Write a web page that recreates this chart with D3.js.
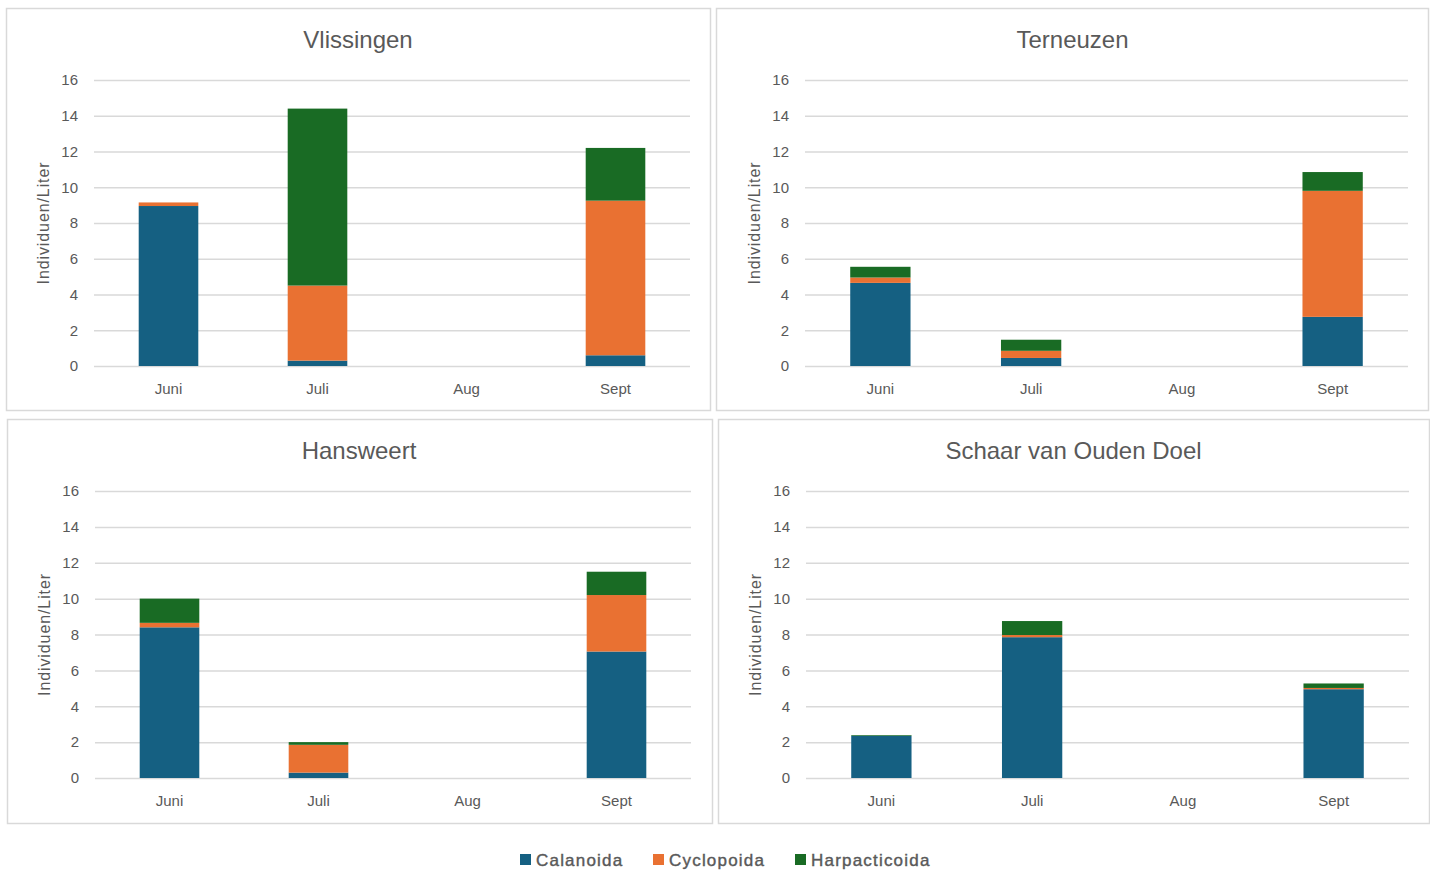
<!DOCTYPE html>
<html>
<head>
<meta charset="utf-8">
<script src="https://cdn.jsdelivr.net/npm/d3@7"></script>
<style>
  html, body { margin: 0; padding: 0; background: #ffffff; }
  svg { display: block; }
  text { font-family: "Liberation Sans", Arial, sans-serif; fill: #595959; }
</style>
</head>
<body>
<svg id="chart" width="1430" height="870"></svg>
<script>
// Copepod densities per station and month (individuals per litre)
const stations = ["Vlissingen", "Terneuzen", "Hansweert", "Schaar van Ouden Doel"];
const months = ["Juni", "Juli", "Aug", "Sept"];
const seriesNames = ["Calanoida", "Cyclopoida", "Harpacticoida"];
const yTicks = [0, 2, 4, 6, 8, 10, 12, 14, 16];

// one row per station, one value per month
const calanoida = [
  [8.95, 0.3, 0, 0.6],
  [4.65, 0.45, 0, 2.75],
  [8.4, 0.3, 0, 7.05],
  [2.35, 7.85, 0, 4.95]
];
const cyclopoida = [
  [0.2, 4.2, 0, 8.65],
  [0.3, 0.4, 0, 7.05],
  [0.25, 1.55, 0, 3.15],
  [0, 0.12, 0, 0.07]
];
const harpacticoida = [
  [0, 9.9, 0, 2.95],
  [0.6, 0.62, 0, 1.05],
  [1.35, 0.15, 0, 1.3],
  [0.04, 0.78, 0, 0.25]
];

const seriesColors = ["#156082", "#E97132", "#196B24"];

// panel frames and plot areas
const panels = [
  { frame: [6.5, 8.5, 710.5, 410.5],   plot: [94, 80, 690, 366] },
  { frame: [716.5, 8.5, 1428.5, 410.5], plot: [805, 80, 1408, 366] },
  { frame: [7.5, 419.5, 712.5, 823.5], plot: [95, 491, 691, 778] },
  { frame: [718.5, 419.5, 1429.5, 823.5], plot: [806, 491, 1409, 778] }
];

const svg = d3.select("#chart");
const stack = d3.stack().keys(seriesNames);

stations.forEach((name, si) => {
  const p = panels[si];
  const [fx0, fy0, fx1, fy1] = p.frame;
  const [px0, py0, px1, py1] = p.plot;

  const g = svg.append("g");

  g.append("rect")
    .attr("x", fx0).attr("y", fy0)
    .attr("width", fx1 - fx0).attr("height", fy1 - fy0)
    .attr("fill", "#ffffff")
    .attr("stroke", "#d9d9d9")
    .attr("stroke-width", 1.5);

  const x = d3.scaleBand().domain(months).range([px0, px1])
    .paddingInner(0.6).paddingOuter(0.3);
  const y = d3.scaleLinear().domain([0, 16]).range([py1, py0]);

  // gridlines + tick labels
  const yAxis = d3.axisLeft(y).tickValues(yTicks)
    .tickSize(-(px1 - px0)).tickPadding(16).tickFormat(d3.format("d"));
  const ya = g.append("g").attr("transform", `translate(${px0},0)`).call(yAxis);
  ya.select(".domain").remove();
  ya.selectAll(".tick line").attr("stroke", "#d9d9d9").attr("stroke-width", 1.5);
  ya.selectAll(".tick text")
    .attr("fill", "#595959")
    .style("font-size", "15px")
    .style("font-family", "'Liberation Sans', Arial, sans-serif");

  // month labels
  const xAxis = d3.axisBottom(x).tickSize(0).tickPadding(17);
  const xa = g.append("g").attr("transform", `translate(0,${py1})`).call(xAxis);
  xa.select(".domain").remove();
  xa.selectAll(".tick text")
    .attr("fill", "#595959")
    .style("font-size", "15px")
    .style("font-family", "'Liberation Sans', Arial, sans-serif");

  // stacked bars
  const rows = months.map((m, mi) => ({
    month: m,
    Calanoida: calanoida[si][mi],
    Cyclopoida: cyclopoida[si][mi],
    Harpacticoida: harpacticoida[si][mi]
  }));
  const layers = stack(rows);
  g.selectAll(".layer").data(layers).join("g")
    .attr("class", "layer")
    .attr("fill", (d, i) => seriesColors[i])
    .selectAll("rect")
    .data(d => d.filter(v => v[1] - v[0] > 0))
    .join("rect")
    .attr("x", d => x(d.data.month))
    .attr("width", x.bandwidth())
    .attr("y", d => y(d[1]))
    .attr("height", d => y(d[0]) - y(d[1]));

  // title
  g.append("text")
    .attr("x", (px0 + px1) / 2 - 34)
    .attr("y", py0 - 32)
    .attr("text-anchor", "middle")
    .style("font-size", "24px")
    .text(name);

  // y axis title
  g.append("text")
    .attr("transform", `translate(${px0 - 45},${(py0 + py1) / 2}) rotate(-90)`)
    .attr("text-anchor", "middle")
    .style("font-size", "16px")
    .style("letter-spacing", "0.9px")
    .text("Individuen/Liter");
});

// legend
const legendX = [520, 653, 795];
const legend = svg.append("g");
seriesNames.forEach((s, i) => {
  legend.append("rect")
    .attr("x", legendX[i]).attr("y", 854)
    .attr("width", 11).attr("height", 11)
    .attr("fill", seriesColors[i]);
  legend.append("text")
    .attr("x", legendX[i] + 16).attr("y", 866)
    .style("font-size", "17px")
    .style("letter-spacing", "1.2px")
    .attr("stroke", "#595959")
    .attr("stroke-width", 0.4)
    .text(s);
});
</script>
</body>
</html>
